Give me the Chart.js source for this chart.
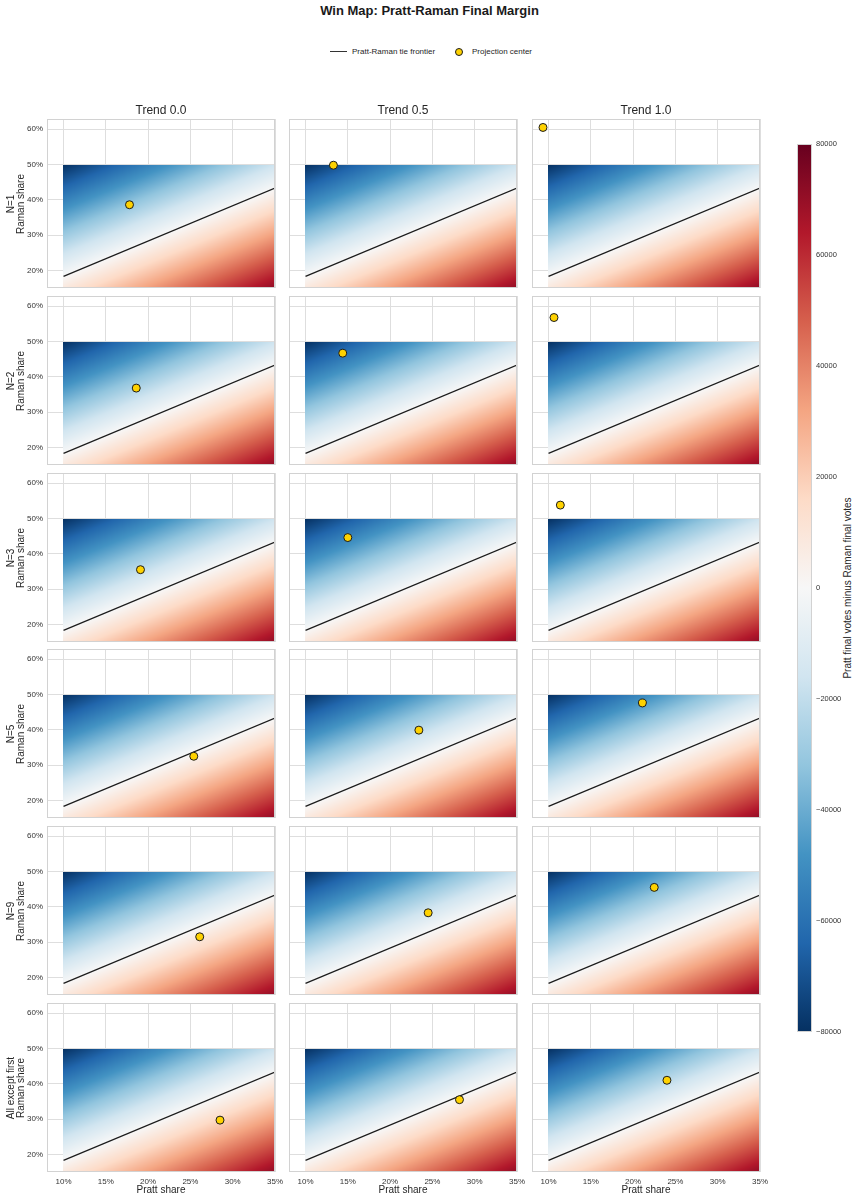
<!DOCTYPE html>
<html><head><meta charset="utf-8">
<script src="https://cdn.jsdelivr.net/npm/chart.js@4.4.1/dist/chart.umd.min.js"></script>
<style>
body{margin:0;background:#fff;}
#root{position:relative;width:859px;height:1200px;overflow:hidden;font-family:"Liberation Sans",Arial,sans-serif;color:#262626;}
.t{position:absolute;white-space:nowrap;}
canvas{position:absolute;}
</style></head><body><div id="root"></div>
<script>
// ---------------- DATA ----------------
const figTitle = 'Win Map: Pratt-Raman Final Margin';
const trendLabels = ['Trend 0.0', 'Trend 0.5', 'Trend 1.0'];
const rowLabels = ['N=1', 'N=2', 'N=3', 'N=5', 'N=9', 'All except first'];
const yAxisTitle = 'Raman share';
const xAxisTitle = 'Pratt share';
const cbTitle = 'Pratt final votes minus Raman final votes';
const legendLine = 'Pratt-Raman tie frontier';
const legendDot = 'Projection center';

const xTicks = [10, 15, 20, 25, 30, 35];
const yTicks = [20, 30, 40, 50, 60];
const cbTicks = [-80000, -60000, -40000, -20000, 0, 20000, 40000, 60000, 80000];

// tie frontier (Pratt share %, Raman share %)
const tieX = [10, 35];
const tieY = [18.3, 43.3];

// projection centers per trend column, rows = N=1,2,3,5,9,All except first
const prattT00 = [17.8, 18.6, 19.1, 25.4, 26.1, 28.5];
const ramanT00 = [38.6, 36.8, 35.5, 32.5, 31.5, 29.7];
const prattT05 = [13.3, 14.4, 15.0, 23.4, 24.5, 28.2];
const ramanT05 = [49.8, 46.7, 44.6, 39.9, 38.3, 35.5];
const prattT10 = [9.35, 10.65, 11.4, 21.1, 22.5, 24.0];
const ramanT10 = [60.5, 56.8, 53.8, 47.6, 45.5, 41.0];

// margin field (Pratt minus Raman final votes) read at grid nodes
const gridPratt = [10, 15, 20, 25, 30, 35];
const gridRaman = [15, 20, 25, 30, 35, 40, 45, 50];
const gridMargin = [ // row per gridRaman value, column per gridPratt value
  [  8300,  20900,  33500,  46100,  58700,  71400],
  [ -4300,   8300,  20900,  33500,  46100,  58700],
  [-16900,  -4300,   8300,  20900,  33500,  46100],
  [-29500, -16900,  -4300,   8300,  20900,  33500],
  [-42200, -29500, -16900,  -4300,   8300,  20900],
  [-54800, -42200, -29500, -16900,  -4300,   8300],
  [-67400, -54800, -42200, -29500, -16900,  -4300],
  [-80000, -67400, -54800, -42200, -29500, -16900]
];
const cbMin = -80000, cbMax = 80000;

// ---------------- STYLE / LAYOUT ----------------
const FONT = '"Liberation Sans", Arial, sans-serif';
const rdbuR = ['#053061','#2166ac','#4393c3','#92c5de','#d1e5f0','#f7f7f7','#fddbc7','#f4a582','#d6604d','#b2182b','#67001f'];
const colLeft = [47, 289, 532], plotW = 228;
const rowTop = [119, 296, 473, 649, 826, 1003], plotH = 169;
const xMin = 8.05, xMax = 35, yMin = 15, yMax = 62.9;
const YW = 45, XH = 22, PT = 8, PR = 12;
const gridColor = '#dedede', spineColor = '#d2d2d2';

const root = document.getElementById('root');
function addText(txt, css) {
  const d = document.createElement('div');
  d.className = 't';
  d.textContent = txt;
  Object.assign(d.style, css);
  root.appendChild(d);
  return d;
}
const rgbStops = rdbuR.map(h => [parseInt(h.slice(1,3),16), parseInt(h.slice(3,5),16), parseInt(h.slice(5,7),16)]);
function cmap(v) {
  let t = (v - cbMin) / (cbMax - cbMin);
  t = Math.max(0, Math.min(1, t)) * (rgbStops.length - 1);
  const i = Math.min(Math.floor(t), rgbStops.length - 2), f = t - i;
  const a = rgbStops[i], b = rgbStops[i+1];
  return [a[0]+(b[0]-a[0])*f, a[1]+(b[1]-a[1])*f, a[2]+(b[2]-a[2])*f];
}
function seg(arr, v) {
  let i = 0;
  while (i < arr.length - 2 && v > arr[i+1]) i++;
  const f = (v - arr[i]) / (arr[i+1] - arr[i]);
  return [i, Math.max(0, Math.min(1, f))];
}
function marginAt(p, r) {
  const [i, fx] = seg(gridPratt, p);
  const [j, fy] = seg(gridRaman, r);
  const m00 = gridMargin[j][i], m01 = gridMargin[j][i+1], m10 = gridMargin[j+1][i], m11 = gridMargin[j+1][i+1];
  return (m00*(1-fx) + m01*fx) * (1-fy) + (m10*(1-fx) + m11*fx) * fy;
}

const heatPlugin = {
  id: 'heat',
  beforeDatasetsDraw(chart) {
    const {ctx, scales: {x, y}} = chart;
    const x0 = Math.round(x.getPixelForValue(gridPratt[0]));
    const x1 = Math.round(x.getPixelForValue(gridPratt[gridPratt.length-1]));
    const y0 = Math.round(y.getPixelForValue(gridRaman[gridRaman.length-1]));
    const y1 = Math.round(y.getPixelForValue(gridRaman[0]));
    const w = x1 - x0, h = y1 - y0;
    const img = ctx.createImageData(w, h);
    for (let j = 0; j < h; j++) {
      const r = y.getValueForPixel(y0 + j + 0.5);
      for (let i = 0; i < w; i++) {
        const p = x.getValueForPixel(x0 + i + 0.5);
        const c = cmap(marginAt(p, r));
        const k = (j * w + i) * 4;
        img.data[k] = c[0]; img.data[k+1] = c[1]; img.data[k+2] = c[2]; img.data[k+3] = 255;
      }
    }
    ctx.putImageData(img, x0, y0);
  }
};
const spinePlugin = {
  id: 'spine',
  afterDraw(chart) {
    const {ctx, chartArea: a} = chart;
    ctx.save();
    ctx.strokeStyle = spineColor; ctx.lineWidth = 1;
    ctx.strokeRect(Math.round(a.left) + 0.5, Math.round(a.top) + 0.5, Math.round(a.right - a.left) - 1, Math.round(a.bottom - a.top) - 1);
    ctx.restore();
  }
};

const centersP = [prattT00, prattT05, prattT10];
const centersR = [ramanT00, ramanT05, ramanT10];

function makePanel(r, c) {
  const cv = document.createElement('canvas');
  const W = YW + plotW + PR, H = PT + plotH + XH;
  cv.width = W; cv.height = H;
  cv.style.left = (colLeft[c] - YW) + 'px';
  cv.style.top = (rowTop[r] - PT) + 'px';
  cv.style.width = W + 'px'; cv.style.height = H + 'px';
  root.appendChild(cv);
  new Chart(cv.getContext('2d'), {
    type: 'scatter',
    data: {
      datasets: [
        { type: 'line', data: tieX.map((v, i) => ({x: v, y: tieY[i]})), borderColor: '#1c1c1c', borderWidth: 1.3, pointRadius: 0, fill: false, order: 1 },
        { type: 'scatter', data: [{x: centersP[c][r], y: centersR[c][r]}], backgroundColor: '#FFD200', borderColor: '#1c1c1c', borderWidth: 1, pointRadius: 4, order: 0 }
      ]
    },
    options: {
      animation: false, responsive: false, devicePixelRatio: 1,
      layout: {padding: {left: 0, right: PR, top: PT, bottom: 0}},
      plugins: {legend: {display: false}, tooltip: {enabled: false}},
      events: [],
      scales: {
        x: {
          type: 'linear', min: xMin, max: xMax,
          afterBuildTicks: s => { s.ticks = xTicks.map(v => ({value: v})); },
          afterFit: s => { s.height = XH; s.paddingLeft = 0; s.paddingRight = 0; s.paddingTop = 0; s.paddingBottom = 0; },
          grid: {color: gridColor, lineWidth: 1, drawTicks: false},
          border: {display: false},
          ticks: {display: r === rowTop.length - 1, padding: 5, color: '#333', font: {size: 8, family: FONT}, maxRotation: 0, autoSkip: false, callback: v => v + '%'}
        },
        y: {
          type: 'linear', min: yMin, max: yMax,
          afterBuildTicks: s => { s.ticks = yTicks.map(v => ({value: v})); },
          afterFit: s => { s.width = YW; s.paddingLeft = 0; s.paddingRight = 0; s.paddingTop = 0; s.paddingBottom = 0; },
          grid: {color: gridColor, lineWidth: 1, drawTicks: false},
          border: {display: false},
          ticks: {display: c === 0, padding: 4, color: '#333', font: {size: 8, family: FONT}, autoSkip: false, callback: v => v + '%'}
        }
      }
    },
    plugins: [heatPlugin, spinePlugin]
  });
}
for (let r = 0; r < rowTop.length; r++) for (let c = 0; c < colLeft.length; c++) makePanel(r, c);

// colour bar
(function () {
  const cbLeft = 797, cbRight = 812, cbTop = 144, cbBottom = 1032;
  const L = 780, T = 134, W = 62, H = 912;
  const cv = document.createElement('canvas');
  cv.width = W; cv.height = H;
  cv.style.left = L + 'px'; cv.style.top = T + 'px';
  cv.style.width = W + 'px'; cv.style.height = H + 'px';
  root.appendChild(cv);
  const barPlugin = {
    id: 'cbar',
    beforeDatasetsDraw(chart) {
      const {ctx, chartArea: a, scales: {y}} = chart;
      const g = ctx.createLinearGradient(0, y.getPixelForValue(cbMin), 0, y.getPixelForValue(cbMax));
      rdbuR.forEach((col, i) => g.addColorStop(i / (rdbuR.length - 1), col));
      ctx.save();
      ctx.fillStyle = g;
      ctx.fillRect(a.left, a.top, a.right - a.left, a.bottom - a.top);
      ctx.strokeStyle = spineColor; ctx.lineWidth = 1;
      ctx.strokeRect(a.left + 0.5, a.top + 0.5, a.right - a.left - 1, a.bottom - a.top - 1);
      ctx.restore();
    }
  };
  new Chart(cv.getContext('2d'), {
    type: 'scatter',
    data: {datasets: []},
    options: {
      animation: false, responsive: false, devicePixelRatio: 1, events: [],
      layout: {padding: {left: cbLeft - L, right: 0, top: cbTop - T, bottom: (T + H) - cbBottom}},
      plugins: {legend: {display: false}, tooltip: {enabled: false}},
      scales: {
        x: {display: false, min: 0, max: 1},
        y: {
          position: 'right', min: cbMin, max: cbMax,
          afterBuildTicks: s => { s.ticks = cbTicks.map(v => ({value: v})); },
          afterFit: s => { s.width = (L + W) - cbRight; s.paddingTop = 0; s.paddingBottom = 0; },
          grid: {display: false, drawTicks: false},
          border: {display: false},
          ticks: {padding: 4, color: '#333', font: {size: 7.5, family: FONT}, autoSkip: false, callback: v => v < 0 ? '\u2212' + Math.abs(v) : String(v)}
        }
      }
    },
    plugins: [barPlugin]
  });
  const lab = addText(cbTitle, {fontSize: '10px', lineHeight: '12px', width: '400px', textAlign: 'center', left: (848 - 200) + 'px', top: (588 - 6) + 'px', transform: 'rotate(-90deg)'});
})();

// title & legend
addText(figTitle, {left: '0px', width: '859px', textAlign: 'center', top: '3px', fontSize: '13px', lineHeight: '15px', fontWeight: 'bold', color: '#1a1a1a'});
(function () {
  const ln = document.createElement('div');
  Object.assign(ln.style, {position: 'absolute', left: '330px', top: '51px', width: '17px', height: '1.3px', background: '#333'});
  root.appendChild(ln);
  addText(legendLine, {left: '352px', top: '47px', fontSize: '8px', lineHeight: '10px', color: '#262626'});
  const dot = document.createElement('div');
  Object.assign(dot.style, {position: 'absolute', left: '455px', top: '48px', width: '6px', height: '6px', borderRadius: '50%', background: '#FFD200', border: '1px solid #1c1c1c'});
  root.appendChild(dot);
  addText(legendDot, {left: '472px', top: '47px', fontSize: '8px', lineHeight: '10px', color: '#262626'});
})();

// column titles, row labels, x titles
trendLabels.forEach((t, c) => {
  addText(t, {left: (colLeft[c]) + 'px', width: plotW + 'px', textAlign: 'center', top: '103px', fontSize: '12px', lineHeight: '14px'});
  addText(xAxisTitle, {left: (colLeft[c]) + 'px', width: plotW + 'px', textAlign: 'center', top: '1184px', fontSize: '10px', lineHeight: '12px'});
});
rowLabels.forEach((t, r) => {
  const d = document.createElement('div');
  d.className = 't';
  d.innerHTML = '';
  const l1 = document.createElement('div'); l1.textContent = t;
  const l2 = document.createElement('div'); l2.textContent = yAxisTitle;
  d.appendChild(l1); d.appendChild(l2);
  const cy = rowTop[r] + plotH / 2;
  Object.assign(d.style, {fontSize: '10px', lineHeight: '10px', width: '160px', height: '20px', textAlign: 'center', left: (15.5 - 80) + 'px', top: (cy - 10) + 'px', transform: 'rotate(-90deg)'});
  root.appendChild(d);
});
</script>
</body></html>
